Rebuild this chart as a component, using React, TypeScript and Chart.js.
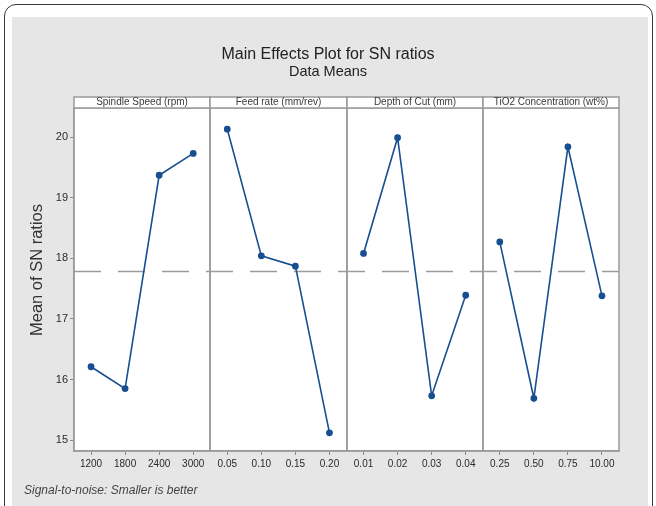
import React, { useEffect, useRef } from 'react';
import { Chart, registerables } from 'chart.js';

Chart.register(...registerables);

const FACTORS = ['Spindle Speed (rpm)', 'Feed rate (mm/rev)', 'Depth of Cut (mm)', 'TiO2 Concentration (wt%)'];
const SPEED_LABELS = ['1200', '1800', '2400', '3000'];
const FEED_LABELS = ['0.05', '0.10', '0.15', '0.20'];
const DEPTH_LABELS = ['0.01', '0.02', '0.03', '0.04'];
const TIO2_LABELS = ['0.25', '0.50', '0.75', '10.00'];
const SPEED_SN = [16.21, 15.85, 19.37, 19.73];
const FEED_SN = [20.13, 18.04, 17.87, 15.12];
const DEPTH_SN = [18.08, 19.99, 15.73, 17.39];
const TIO2_SN = [18.27, 15.69, 19.84, 17.38];
const Y_TICKS = [15, 16, 17, 18, 19, 20];
const Y_MIN = 14.82;
const Y_MAX = 20.48;
const GRAND_MEAN = 17.79;

const FONT = '"Liberation Sans", "DejaVu Sans", sans-serif';
const LINE = '#174f90';
const BORDER = '#9a9a9a';

const framePlugin = {
  id: 'frame',
  beforeDraw(chart: any) {
    const { ctx, chartArea: a } = chart;
    ctx.save();
    ctx.fillStyle = '#ffffff';
    ctx.fillRect(a.left, a.top, a.right - a.left, a.bottom - a.top);
    ctx.restore();
  },
  beforeDatasetsDraw(chart: any) {
    const { ctx, chartArea: a } = chart;
    const y = Math.round(chart.scales.y.getPixelForValue(GRAND_MEAN)) + 0.5;
    ctx.save();
    ctx.strokeStyle = '#9c9c9c';
    ctx.lineWidth = 1.5;
    ctx.setLineDash([27, 17]);
    ctx.beginPath();
    ctx.moveTo(a.left, y);
    ctx.lineTo(a.right, y);
    ctx.stroke();
    ctx.restore();
  },
  afterDraw(chart: any) {
    const { ctx, chartArea: a, width } = chart;
    ctx.save();
    ctx.strokeStyle = BORDER;
    ctx.lineWidth = 1.5;
    for (let i = 0; i < 4; i++) {
      const s = chart.scales['x' + i];
      const l = Math.round(s.left);
      const r = Math.round(s.right);
      ctx.strokeRect(l, Math.round(a.top), r - l, Math.round(a.bottom) - Math.round(a.top));
      ctx.fillStyle = '#ffffff';
      ctx.fillRect(l, Math.round(a.top) - 11, r - l, 11);
      ctx.strokeRect(l, Math.round(a.top) - 11, r - l, 11);
      ctx.fillStyle = '#3a3a3a';
      ctx.font = '10px ' + FONT;
      ctx.textAlign = 'center';
      ctx.textBaseline = 'middle';
      ctx.fillText(FACTORS[i], (l + r) / 2, Math.round(a.top) - 6);
    }
    ctx.fillStyle = '#222222';
    ctx.textAlign = 'center';
    ctx.textBaseline = 'middle';
    ctx.font = '16px ' + FONT;
    ctx.fillText('Main Effects Plot for SN ratios', width / 2 - 2, 38);
    ctx.font = '14.5px ' + FONT;
    ctx.fillText('Data Means', width / 2 - 2, 55);
    ctx.save();
    ctx.translate(25, 253);
    ctx.rotate(-Math.PI / 2);
    ctx.font = '16.5px ' + FONT;
    ctx.fillStyle = '#333333';
    ctx.fillText('Mean of SN ratios', 0, 0);
    ctx.restore();
    ctx.textAlign = 'left';
    ctx.font = 'italic 12px ' + FONT;
    ctx.fillStyle = '#444444';
    ctx.fillText('Signal-to-noise: Smaller is better', 12, 474);
    ctx.restore();
  },
};

const xAxis = (labels: string[]) => ({
  type: 'category',
  labels,
  offset: true,
  position: 'bottom',
  stack: 'panels',
  stackWeight: 1,
  grid: { display: true, drawOnChartArea: false, drawTicks: true, tickLength: 4, color: '#8a8a8a', offset: false },
  border: { display: true, color: BORDER, width: 1.5 },
  ticks: { autoSkip: false, maxRotation: 0, minRotation: 0, padding: 3, color: '#2a2a2a', font: { size: 10, family: FONT } },
  afterFit: (s: any) => {
    s.height = 24;
  },
});

const ds = (data: number[], axis: string) => ({
  data,
  xAxisID: axis,
  yAxisID: 'y',
  borderColor: LINE,
  backgroundColor: LINE,
  pointBackgroundColor: LINE,
  pointBorderColor: LINE,
  pointRadius: 2.6,
  pointHoverRadius: 2.6,
  borderWidth: 1.6,
  tension: 0,
  fill: false,
});

export default function App() {
  const ref = useRef<HTMLCanvasElement>(null);
  useEffect(() => {
    const chart = new Chart(ref.current as HTMLCanvasElement, {
      type: 'line',
      data: {
        datasets: [ds(SPEED_SN, 'x0'), ds(FEED_SN, 'x1'), ds(DEPTH_SN, 'x2'), ds(TIO2_SN, 'x3')],
      } as any,
      options: {
        responsive: false,
        animation: false,
        devicePixelRatio: 1,
        events: [],
        layout: { padding: { left: 0, right: 29, top: 91, bottom: 31 } },
        plugins: { legend: { display: false }, tooltip: { enabled: false }, title: { display: false } },
        scales: {
          x0: xAxis(SPEED_LABELS),
          x1: xAxis(FEED_LABELS),
          x2: xAxis(DEPTH_LABELS),
          x3: xAxis(TIO2_LABELS),
          y: {
            type: 'linear',
            position: 'left',
            min: Y_MIN,
            max: Y_MAX,
            afterBuildTicks: (s: any) => {
              s.ticks = Y_TICKS.map((v) => ({ value: v }));
            },
            afterFit: (s: any) => {
              s.width = 62;
            },
            grid: { display: true, drawOnChartArea: false, drawTicks: true, tickLength: 4, color: '#8a8a8a' },
            border: { display: true, color: BORDER, width: 1.5 },
            ticks: { padding: 2, color: '#2a2a2a', font: { size: 11, family: FONT } },
          },
        } as any,
      },
      plugins: [framePlugin],
    } as any);
    return () => chart.destroy();
  }, []);
  return (
    <div style={{ position: 'fixed', left: 0, top: 0, width: 656, height: 506, overflow: 'hidden', background: '#ffffff' }}>
      <div
        style={{
          position: 'absolute',
          left: 4,
          top: 4,
          width: 649,
          height: 560,
          border: '1px solid #3a3a3a',
          borderRadius: 12,
          boxSizing: 'border-box',
        }}
      />
      <div style={{ position: 'absolute', left: 12, top: 17, width: 636, height: 489, background: '#e6e6e6' }} />
      <canvas ref={ref} width={636} height={489} style={{ position: 'absolute', left: 12, top: 17 }} />
    </div>
  );
}
